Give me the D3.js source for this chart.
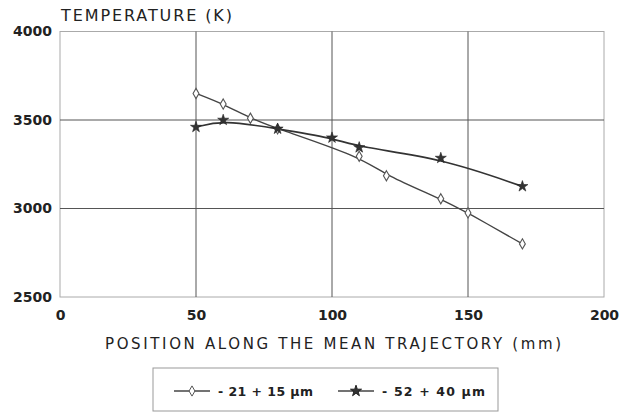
<!DOCTYPE html>
<html>
<head>
<meta charset="utf-8">
<script src="https://cdn.jsdelivr.net/npm/d3@7"></script>
<style>
    body { margin: 0; background: #fff; }
    svg text { font-family: "DejaVu Sans", "Liberation Sans", sans-serif; fill: #222; }
</style>
</head>
<body>
<div class="chart"></div>
<script>
// data
const xTicks = [0, 50, 100, 150, 200];
const yTicks = [2500, 3000, 3500, 4000];
const smallPos = [50, 60, 70, 80, 110, 120, 140, 150, 170];
const smallTemp = [3650, 3590, 3510, 3450, 3295, 3185, 3055, 2975, 2800];
const largePos = [50, 60, 80, 100, 110, 140, 170];
const largeTemp = [3460, 3500, 3450, 3400, 3345, 3285, 3125];
const seriesNames = ['- 21 + 15 \u00b5m', '- 52 + 40 \u00b5m'];

(function () {
    const width = 629, height = 414;
    const padding = { top: 31.5, right: 25, bottom: 117, left: 60 };
    const innerWidth = width - padding.left - padding.right;
    const innerHeight = height - padding.top - padding.bottom;

    const svg = d3.select('.chart').append('svg').attr('width', width).attr('height', height);
    const g = svg.append('g').attr('transform', `translate(${padding.left},${padding.top})`);

    const xScale = d3.scaleLinear().domain([0, 200]).range([0, innerWidth]);
    const yScale = d3.scaleLinear().domain([2500, 4000]).range([innerHeight, 0]);

    // frame
    g.append('rect').attr('width', innerWidth).attr('height', innerHeight)
        .attr('fill', 'none').attr('stroke', '#aaa').attr('stroke-width', 1);

    // grid
    g.selectAll('.vgrid').data(xTicks.slice(1, -1)).enter().append('line')
        .attr('x1', d => xScale(d)).attr('x2', d => xScale(d))
        .attr('y1', 0).attr('y2', innerHeight)
        .attr('stroke', '#555').attr('stroke-width', 1);
    g.selectAll('.hgrid').data(yTicks.slice(1, -1)).enter().append('line')
        .attr('y1', d => yScale(d)).attr('y2', d => yScale(d))
        .attr('x1', 0).attr('x2', innerWidth)
        .attr('stroke', '#555').attr('stroke-width', 1);

    // axes (labels only)
    const xAxis = g.append('g').attr('transform', `translate(0,${innerHeight})`)
        .call(d3.axisBottom(xScale).tickValues(xTicks).tickFormat(d3.format('d')).tickSize(0).tickPadding(13));
    const yAxis = g.append('g')
        .call(d3.axisLeft(yScale).tickValues(yTicks).tickFormat(d3.format('d')).tickSize(0).tickPadding(8));
    [xAxis, yAxis].forEach(a => {
        a.select('.domain').remove();
        a.selectAll('text').attr('font-size', 14).attr('font-weight', 'bold')
            .attr('font-family', '"DejaVu Sans", sans-serif').attr('fill', '#222');
    });

    svg.append('text').attr('x', 61).attr('y', 21).attr('font-size', 16)
        .attr('textLength', 171).attr('lengthAdjust', 'spacing').text('TEMPERATURE (K)');
    svg.append('text').attr('x', 105).attr('y', 348.5).attr('font-size', 15)
        .attr('textLength', 456).attr('lengthAdjust', 'spacing')
        .text('POSITION ALONG THE MEAN TRAJECTORY (mm)');

    const line = d3.line().curve(d3.curveBasis)
        .x(d => xScale(d[0])).y(d => yScale(d[1]));

    const small = smallPos.map((p, i) => [p, smallTemp[i]]);
    const large = largePos.map((p, i) => [p, largeTemp[i]]);

    g.append('path').datum(small).attr('d', line)
        .attr('fill', 'none').attr('stroke', '#444').attr('stroke-width', 1.4);
    g.append('path').datum(large).attr('d', line)
        .attr('fill', 'none').attr('stroke', '#333').attr('stroke-width', 1.6);

    const diamond = d3.symbol().type(d3.symbolDiamond).size(30);
    const star = d3.symbol().type(d3.symbolStar).size(38);

    g.selectAll('.dia').data(small).enter().append('path')
        .attr('d', diamond)
        .attr('transform', d => `translate(${xScale(d[0])},${yScale(d[1])})`)
        .attr('fill', '#fff').attr('stroke', '#555').attr('stroke-width', 1.1);
    g.selectAll('.star').data(large).enter().append('path')
        .attr('d', star)
        .attr('transform', d => `translate(${xScale(d[0])},${yScale(d[1])})`)
        .attr('fill', '#333').attr('stroke', '#222').attr('stroke-width', 0.6);

    // legend
    const lg = svg.append('g').attr('transform', 'translate(153,368)');
    lg.append('rect').attr('width', 345).attr('height', 43)
        .attr('fill', '#fff').attr('stroke', '#999').attr('stroke-width', 1);
    const items = [
        { x: 21, sym: diamond, fill: '#fff', stroke: '#555', tw: 95 },
        { x: 185, sym: star, fill: '#333', stroke: '#222', tw: 103 }
    ];
    items.forEach((it, i) => {
        const ig = lg.append('g').attr('transform', `translate(${it.x},23)`);
        ig.append('line').attr('x1', 0).attr('x2', 36).attr('stroke', '#444').attr('stroke-width', 1.3);
        ig.append('path').attr('d', it.sym).attr('transform', 'translate(18,0)')
            .attr('fill', it.fill).attr('stroke', it.stroke).attr('stroke-width', 1);
        ig.append('text').attr('x', 44).attr('y', 5).attr('font-size', 12.5).attr('font-weight', 'bold')
            .attr('textLength', it.tw).attr('lengthAdjust', 'spacing').text(seriesNames[i]);
    });
})();
</script>
</body>
</html>
